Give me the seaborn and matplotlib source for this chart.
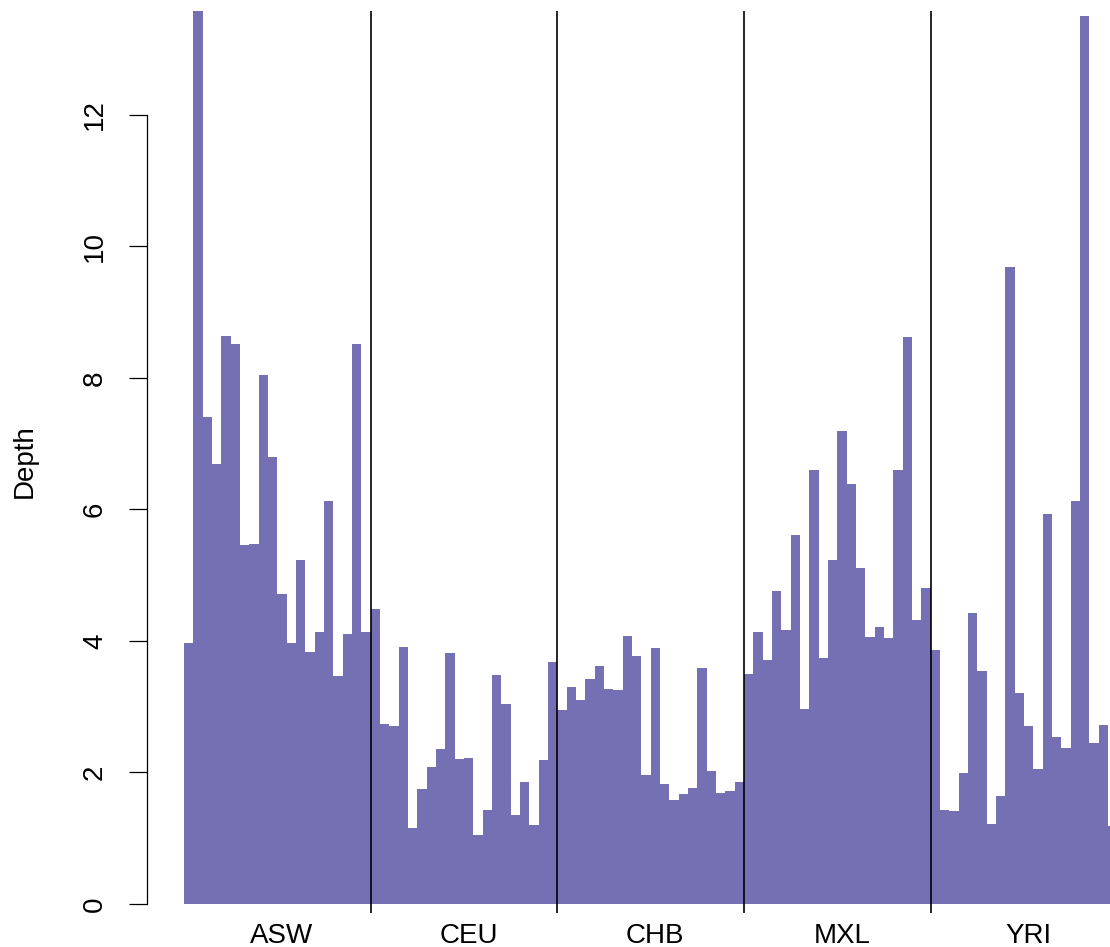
import numpy as np
import pandas as pd
import matplotlib
matplotlib.use("Agg")
import matplotlib.pyplot as plt
import seaborn as sns

# Per-sample read depth, 20 samples per population
populations = ["ASW", "CEU", "CHB", "MXL", "YRI"]
depth_asw = [3.97, 14.0, 7.40, 6.69, 8.64, 8.51, 5.46, 5.48, 8.04, 6.80,
             4.71, 3.97, 5.23, 3.83, 4.14, 6.13, 3.47, 4.11, 8.51, 4.14]
depth_ceu = [4.49, 2.74, 2.71, 3.91, 1.16, 1.75, 2.08, 2.36, 3.82, 2.20,
             2.22, 1.05, 1.43, 3.48, 3.04, 1.35, 1.85, 1.20, 2.19, 3.68]
depth_chb = [2.95, 3.30, 3.10, 3.42, 3.62, 3.27, 3.25, 4.07, 3.77, 1.96,
             3.89, 1.82, 1.58, 1.67, 1.76, 3.59, 2.02, 1.69, 1.72, 1.85]
depth_mxl = [3.50, 4.14, 3.71, 4.76, 4.17, 5.61, 2.96, 6.60, 3.74, 5.23,
             7.19, 6.39, 5.11, 4.06, 4.21, 4.04, 6.60, 8.62, 4.32, 4.80]
depth_yri = [3.86, 1.43, 1.41, 1.99, 4.42, 3.54, 1.22, 1.64, 9.69, 3.21,
             2.71, 2.05, 5.93, 2.54, 2.37, 6.13, 13.50, 2.45, 2.72, 1.19]
y_ticks = [0, 2, 4, 6, 8, 10, 12]

groups = [depth_asw, depth_ceu, depth_chb, depth_mxl, depth_yri]
depth = np.concatenate(groups)
pop = np.repeat(populations, [len(g) for g in groups])
df = pd.DataFrame({"sample": np.arange(len(depth)), "depth": depth, "pop": pop})

sns.set_theme(style="white")
plt.rcParams["font.family"] = ["Liberation Sans", "DejaVu Sans"]
plt.rcParams["text.color"] = "black"
plt.rcParams["xtick.color"] = "black"
plt.rcParams["ytick.color"] = "black"

W, H = 1110, 947
fig = plt.figure(figsize=(W / 100, H / 100), dpi=100)
ax = fig.add_axes([147 / W, 1 - 913 / H, (W - 147) / W, 902 / H])

bar_color = "#7570b3"
sns.barplot(data=df, x="sample", y="depth", color=bar_color, saturation=1,
            width=1.0, errorbar=None, linewidth=0, ax=ax)
for p in ax.patches:
    p.set_antialiased(False)

n_per = len(depth_asw)
# Population separators
for k in range(1, len(populations)):
    ax.axvline(k * n_per - 0.5, color="black", lw=1.2, zorder=5)

ax.set_xlim(-4.464, 98.71)
ax.set_ylim(-0.137, 13.58)

# Population names under each block
ax.set_xticks([k * n_per + n_per // 2 for k in range(len(populations))])
ax.set_xticklabels(populations, fontsize=20, color="black")
ax.tick_params(axis="x", length=0, pad=7)

ax.set_yticks(y_ticks)
ax.set_yticklabels([str(t) for t in y_ticks], fontsize=20, rotation=90,
                   va="center", color="black")
ax.tick_params(axis="y", length=13, width=0.9, pad=15, color="black", left=True)

for side in ["top", "right", "bottom"]:
    ax.spines[side].set_visible(False)
ax.spines["left"].set_bounds(0, 12)
ax.spines["left"].set_linewidth(0.9)
ax.spines["left"].set_color("black")

ax.set_xlabel("")
ax.set_ylabel("")
fig.text(25 / W, 1 - 461 / H, "Depth", rotation=90, ha="center", va="center",
         fontsize=20, color="black")

fig.savefig("out.png", dpi=100)
